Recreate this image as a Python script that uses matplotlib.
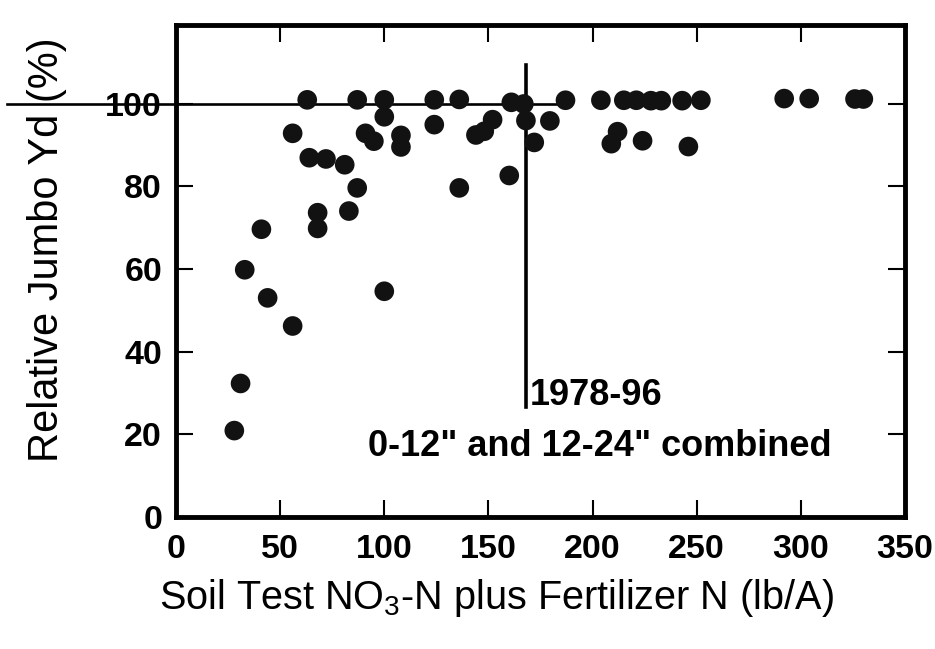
import matplotlib
matplotlib.use("Agg")
import matplotlib.pyplot as plt

plt.rcParams['font.family'] = ['Liberation Sans', 'DejaVu Sans']
plt.rcParams['mathtext.fontset'] = 'custom'
plt.rcParams['mathtext.rm'] = 'Liberation Sans'
plt.rcParams['mathtext.it'] = 'Liberation Sans:italic'
plt.rcParams['mathtext.bf'] = 'Liberation Sans:bold'

# Data
soil_n = [28, 31, 33, 41, 44, 56, 56, 63, 64, 68, 68, 72, 81, 83, 87, 87, 91, 95,
          100, 100, 100, 108, 108, 124, 124, 136, 136, 144, 148, 152, 160, 161, 167,
          168, 172, 179.5, 187, 204, 209, 212, 215, 221, 224, 228, 233, 243, 246,
          252, 292, 304, 326, 330]
rel_yield = [20.9, 32.3, 59.8, 69.6, 53.0, 46.2, 92.8, 100.9, 86.9, 73.6, 69.8, 86.6,
             85.2, 74.0, 79.6, 100.9, 92.8, 90.9, 100.9, 96.8, 54.6, 92.3, 89.5, 100.9,
             94.9, 101.0, 79.6, 92.4, 93.3, 96.1, 82.6, 100.3, 99.9, 95.9, 90.6, 95.8,
             100.8, 100.8, 90.3, 93.2, 100.8, 100.8, 91.0, 100.7, 100.7, 100.7, 89.6,
             100.8, 101.2, 101.2, 101.1, 101.1]

plateau_x = [-81, 183]
plateau_y = [99.8, 99.8]
critical_x = [168, 168]
critical_y = [26.6, 109.4]

xticks = [0, 50, 100, 150, 200, 250, 300, 350]
yticks = [0, 20, 40, 60, 80, 100]

fig = plt.figure(figsize=(9.35, 6.49), dpi=100)
ax = fig.add_axes([176/935, 1-517/649, 729/935, 492/649])

ax.scatter(soil_n, rel_yield, s=200, color='#121212', edgecolors='none', zorder=3)
ax.plot(plateau_x, plateau_y, color='black', lw=1.9, clip_on=False, zorder=2)
ax.plot(critical_x, critical_y, color='black', lw=2.6, zorder=2)

ax.set_xlim(0, 350)
ax.set_ylim(0, 119)
ax.set_xticks(xticks)
ax.set_yticks(yticks)
ax.set_xticklabels([str(v) for v in xticks], fontsize=24.5, fontweight='bold')
ax.set_yticklabels([str(v) for v in yticks], fontsize=24.5, fontweight='bold')
ax.tick_params(axis='both', direction='in', length=12, width=1.5,
               top=True, right=True)
ax.tick_params(axis='x', pad=12)
ax.tick_params(axis='y', pad=10)
for sp in ax.spines.values():
    sp.set_linewidth(3.5)

ax.text(170, 29.5, '1978-96', fontsize=26, fontweight='bold', ha='left', va='center')
ax.text(92, 17.1, '0-12" and 12-24" combined', fontsize=26, fontweight='bold',
        ha='left', va='center')

fig.text(496/935, 1-598/649, r'Soil Test NO$_{\mathregular{3}}$-N plus Fertilizer N (lb/A)',
         fontsize=28.5, ha='center', va='center')
fig.text(47/935, 1-250/649, 'Relative Jumbo Yd (%)', fontsize=30, rotation=90,
         ha='center', va='center')

fig.savefig('out.png', dpi=100, facecolor='white')
